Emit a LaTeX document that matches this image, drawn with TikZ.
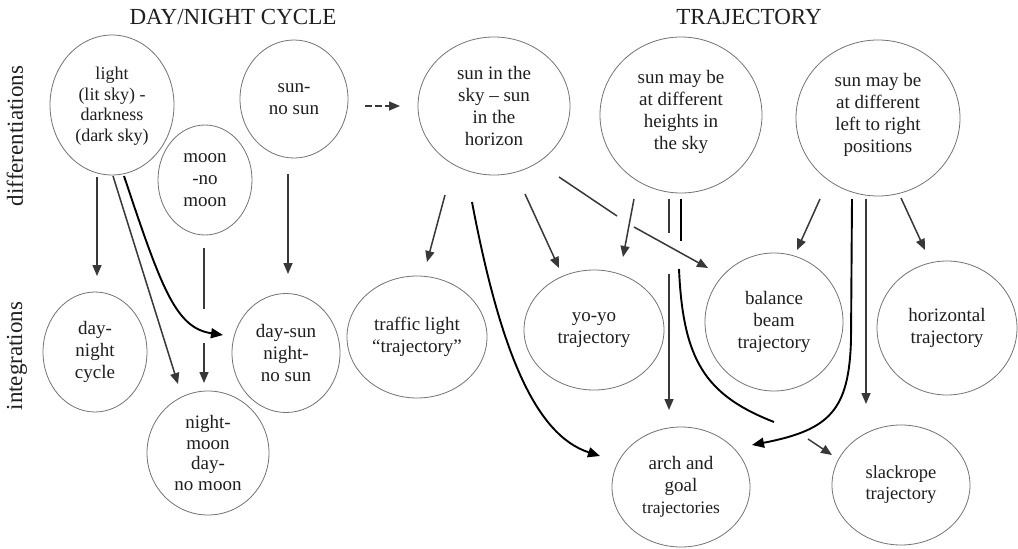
\documentclass[tikz,border=0pt]{standalone}
\usepackage{fontspec}
\setmainfont{Liberation Serif}
\usetikzlibrary{arrows.meta,shapes.geometric}
\begin{document}
\begin{tikzpicture}[x=1pt,y=-1pt,
  bub/.style={ellipse, draw=black!55, line width=0.8pt, inner sep=0pt, align=center,
              font=\fontsize{19}{22}\selectfont, text=black!88},
  arr/.style={draw=black!78, line width=1.5pt, -{Triangle[length=11pt,width=9pt]}},
  ln/.style={draw=black!78, line width=1.5pt},
  carr/.style={draw=black, line width=1.9pt, -{Triangle[length=12pt,width=10pt]}},
  cln/.style={draw=black, line width=1.9pt},
  ttl/.style={font=\fontsize{23}{26}\selectfont, text=black!88, anchor=base, inner sep=0pt},
  side/.style={font=\fontsize{23}{26}\selectfont, text=black!88, anchor=base, rotate=90, inner sep=0pt},
]
\useasboundingbox[fill=white] (0,0) rectangle (1018,549);

% titles
\node[ttl] (t1) at (233,24) {DAY/NIGHT CYCLE};
\node[ttl] (t2) at (749,24) {TRAJECTORY};
\node[side] (s1) at (23,136) {differentiations};
\node[side] (s2) at (22,356) {integrations};

% day/night nodes
\node[bub, minimum width=124pt, minimum height=140pt, font=\fontsize{18}{20.5}\selectfont, text depth=1pt] (light) at (112,105)
  {light\\(lit sky) -\\darkness\\(dark sky)};
\node[bub, minimum width=108pt, minimum height=118pt] (sunno) at (294,99) {sun-\\no sun};
\node[bub, minimum width=94pt, minimum height=110pt] (moon) at (205,180) {moon\\-no\\moon};
\node[bub, minimum width=104pt, minimum height=120pt] (daynight) at (95,352) {day-\\night\\cycle};
\node[bub, minimum width=108pt, minimum height=119pt] (daysun) at (286,353) {day-sun\\night-\\no sun};
\node[bub, minimum width=122pt, minimum height=124pt, font=\fontsize{19}{20.5}\selectfont] (nightmoon) at (208,453)
  {night-\\moon\\day-\\no moon};

% trajectory nodes
\node[bub, minimum width=152pt, minimum height=138pt] (sky) at (494,106) {sun in the\\sky -- sun\\in the\\horizon};
\node[bub, minimum width=162pt, minimum height=156pt, text depth=11pt] (heights) at (681,115)
  {sun may be\\at different\\heights in\\the sky};
\node[bub, minimum width=164pt, minimum height=156pt, text depth=11pt] (leftright) at (878,118)
  {sun may be\\at different\\left to right\\positions};
\node[bub, minimum width=140pt, minimum height=122pt] (traffic) at (417,337) {traffic light\\``trajectory''};
\node[bub, minimum width=140pt, minimum height=120pt] (yoyo) at (594,330) {yo-yo\\trajectory};
\node[bub, minimum width=138pt, minimum height=138pt] (balance) at (774,322) {balance\\beam\\trajectory};
\node[bub, minimum width=140pt, minimum height=134pt] (horizontal) at (947,328) {horizontal\\trajectory};
\node[bub, minimum width=138pt, minimum height=120pt] (arch) at (681,487)
  {arch and\\goal\\{\fontsize{17.5}{22}\selectfont trajectories}};
\node[bub, minimum width=138pt, minimum height=120pt, font=\fontsize{18.5}{21}\selectfont] (slack) at (901,485)
  {slackrope\\trajectory};

% connector end points
\coordinate (a1) at (97,177);   \coordinate (a2) at (97,276);
\coordinate (b1) at (113,176);  \coordinate (b2) at (178,384);
\coordinate (c1) at (124,176);  \coordinate (c2) at (223,335);
\coordinate (d1) at (204,248);  \coordinate (d2) at (204,309);
\coordinate (d3) at (204,343);  \coordinate (d4) at (204,383);
\coordinate (e1) at (288,174);  \coordinate (e2) at (288,274);
\coordinate (f1) at (365,106);  \coordinate (f2) at (400,106);
\coordinate (g1) at (445,195);  \coordinate (g2) at (427,262);
\coordinate (h1) at (472,202);  \coordinate (h2) at (600,456);
\coordinate (i1) at (525,194);  \coordinate (i2) at (559,268);
\coordinate (j1) at (559,177);  \coordinate (j2) at (617,216);
\coordinate (j3) at (634,227);  \coordinate (j4) at (708,268);
\coordinate (k1) at (634,199);  \coordinate (k2) at (623,257);
\coordinate (l1) at (669,199);  \coordinate (l2) at (669,233);
\coordinate (l3) at (669,274);  \coordinate (l4) at (669,410);
\coordinate (m1) at (681,199);  \coordinate (m2) at (681,241);
\coordinate (m3) at (679,269);  \coordinate (m4) at (774,422);
\coordinate (m5) at (808,439);  \coordinate (m6) at (832,455);
\coordinate (n1) at (820,199);  \coordinate (n2) at (797,250);
\coordinate (o1) at (852,199);  \coordinate (o2) at (851,340);  \coordinate (o3) at (752,445);
\coordinate (p1) at (866,199);  \coordinate (p2) at (866,404);
\coordinate (q1) at (901,198);  \coordinate (q2) at (925,250);

% day/night connectors
\draw[arr] (a1) -- (a2);
\draw[arr] (b1) -- (b2);
\draw[carr] (c1) .. controls (162,290) and (176,328) .. (c2);
\draw[ln] (d1) -- (d2);
\draw[arr] (d3) -- (d4);
\draw[arr] (e1) -- (e2);

% dashed link
\draw[arr, dash pattern=on 6.5pt off 3.5pt] (f1) -- (f2);

% trajectory connectors
\draw[arr] (g1) -- (g2);
\draw[carr] (h1) .. controls (500,350) and (535,435) .. (h2);
\draw[arr] (i1) -- (i2);
\draw[ln] (j1) -- (j2);
\draw[arr] (j3) -- (j4);
\draw[arr] (k1) -- (k2);
\draw[ln] (l1) -- (l2);
\draw[arr] (l3) -- (l4);
\draw[cln] (m1) -- (m2);
\draw[cln] (m3) .. controls (683,360) and (705,395) .. (m4);
\draw[arr] (m5) -- (m6);
\draw[arr] (n1) -- (n2);
\draw[carr] (o1) -- (o2) .. controls (849,410) and (830,430) .. (o3);
\draw[arr] (p1) -- (p2);
\draw[arr] (q1) -- (q2);
\end{tikzpicture}
\end{document}
